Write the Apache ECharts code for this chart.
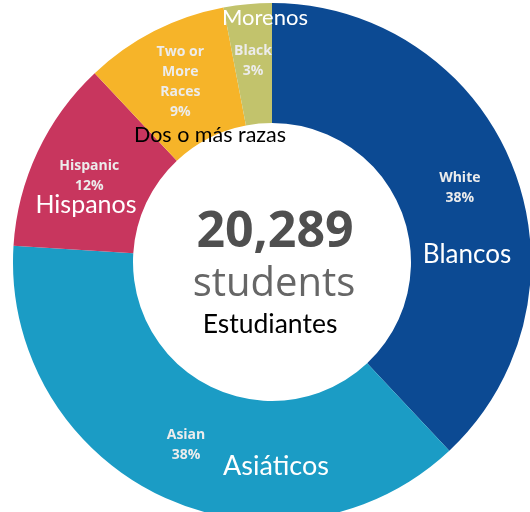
<!DOCTYPE html>
<html>
<head>
<meta charset="utf-8">
<script src="https://cdn.jsdelivr.net/npm/echarts@6/dist/echarts.min.js"></script>
<style>
  html, body { margin: 0; padding: 0; background: #fff; }
  #chart { width: 530px; height: 512px; }
</style>
</head>
<body>
<div id="chart"></div>
<script>
  // slices, clockwise from 12 o'clock
  var groups = ['White', 'Asian', 'Hispanic', 'Two or More Races', 'Black'];
  var groupLabels = ['White', 'Asian', 'Hispanic', 'Two or\nMore\nRaces', 'Black'];
  var shares = [38, 38, 12, 9, 3];
  var colors = ['#0c4a93', '#1b9cc5', '#c8365e', '#f6b429', '#c2c36c'];

  var totalStudents = '20,289';
  var totalCaption = 'students';

  // spanish overlay labels
  var esTexts = ['Blancos', 'Asiáticos', 'Hispanos', 'Dos o más razas', 'Morenos', 'Estudiantes'];

  var myChart = echarts.init(document.getElementById('chart'));

  var pieData = [];
  for (var i = 0; i < groups.length; i++) {
    pieData.push({
      name: groups[i],
      value: shares[i],
      itemStyle: { color: colors[i] },
      label: { formatter: groupLabels[i] + '\n' + shares[i] + '%' }
    });
  }

  function txt(str, x, y, size, color, weight, font) {
    return {
      type: 'text',
      x: x,
      y: y,
      style: {
        text: str,
        fill: color,
        font: (weight || 'normal') + ' ' + size + 'px ' + (font || '"Open Sans", sans-serif'),
        textAlign: 'center',
        textVerticalAlign: 'middle'
      },
      z: 10
    };
  }

  var esFont = 'Lato, "Noto Sans", sans-serif';

  var option = {
    backgroundColor: '#fff',
    animation: false,
    series: [{
      type: 'pie',
      center: [272, 262],
      radius: [139, 259],
      startAngle: 90,
      clockwise: true,
      silent: true,
      label: {
        show: true,
        position: 'inside',
        color: '#ececec',
        fontFamily: '"Open Sans", sans-serif',
        fontWeight: 'bold',
        fontSize: 14,
        lineHeight: 20
      },
      labelLine: { show: false },
      itemStyle: { borderWidth: 0 },
      data: pieData
    }],
    graphic: [
      txt(totalStudents, 275, 233, 50, '#4f4f4f', 'bold'),
      txt(totalCaption, 274, 285, 40, '#666666', 'normal'),
      txt(esTexts[0], 467, 255, 26, '#ffffff', 'normal', esFont),
      txt(esTexts[1], 276, 466, 27, '#ffffff', 'normal', esFont),
      txt(esTexts[2], 86, 205, 25, '#ffffff', 'normal', esFont),
      txt(esTexts[3], 210, 135, 21.5, '#000000', 'normal', esFont),
      txt(esTexts[4], 265, 18, 22, '#ffffff', 'normal', esFont),
      txt(esTexts[5], 270, 324, 26.5, '#000000', 'normal', esFont)
    ]
  };

  myChart.setOption(option);
</script>
</body>
</html>
